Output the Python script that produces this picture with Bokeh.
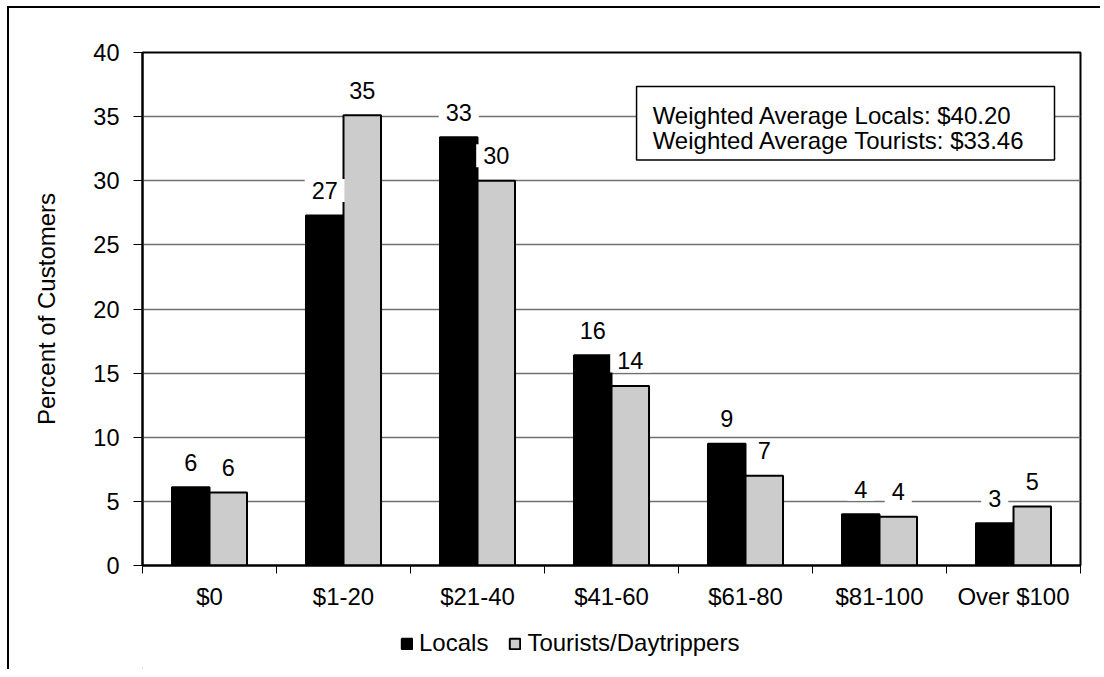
import numpy as np
from bokeh.plotting import figure
from bokeh.layouts import column
from bokeh.models import (ColumnDataSource, FixedTicker, Legend, LegendItem,
                          BoxAnnotation, Label)
from bokeh.embed import file_html
from bokeh.resources import INLINE
from bokeh.core.properties import value

# ---- data ----
categories = ["$0", "$1-20", "$21-40", "$41-60", "$61-80", "$81-100", "Over $100"]
locals_pct = [6.1, 27.3, 33.4, 16.4, 9.5, 4.0, 3.3]
tourists_pct = [5.7, 35.1, 30.0, 14.0, 7.0, 3.8, 4.6]
locals_labels = ["6", "27", "33", "16", "9", "4", "3"]
tourists_labels = ["6", "35", "30", "14", "7", "4", "5"]
y_ticks = [0, 5, 10, 15, 20, 25, 30, 35, 40]
series_names = ["Locals", "Tourists/Daytrippers"]
series_colors = ["black", "#cccccc"]
summary_lines = ["Weighted Average Locals: $40.20",
                 "Weighted Average Tourists: $33.46"]
y_title = "Percent of Customers"

FONT = "Liberation Sans"
n = len(categories)
centers = np.arange(n) + 0.5
bw = 0.28

src = ColumnDataSource(dict(
    loc_x=centers - bw / 2, tour_x=centers + bw / 2,
    loc=locals_pct, tour=tourists_pct,
    loc_lab=locals_labels, tour_lab=tourists_labels))

p = figure(frame_width=936, frame_height=511,
           x_range=(0, n), y_range=(y_ticks[0], y_ticks[-1]),
           output_backend="svg", toolbar_location=None,
           min_border_left=133, min_border_right=22,
           min_border_top=44, min_border_bottom=50)
p.styles = {"margin-left": "7px", "margin-top": "6px",
            "border-top": "2px solid black", "border-left": "2px solid black"}
p.background_fill_color = "white"
p.border_fill_color = "white"
p.outline_line_color = "black"
p.outline_line_width = 2

# grid
p.xgrid.visible = False
p.ygrid.ticker = FixedTicker(ticks=y_ticks)
p.ygrid.grid_line_color = "#707070"
p.ygrid.grid_line_width = 1.5

# y axis
ya = p.yaxis[0]
ya.ticker = FixedTicker(ticks=y_ticks)
ya.axis_line_color = "black"
ya.axis_line_width = 2
ya.major_tick_in = 0
ya.major_tick_out = 9
ya.major_tick_line_color = "black"
ya.minor_tick_line_color = None
ya.major_label_text_font = FONT
ya.major_label_text_font_size = "23.5px"
ya.major_label_text_color = "black"
ya.major_label_standoff = 14
ya.axis_label = y_title
ya.axis_label_text_font = FONT
ya.axis_label_text_font_size = "24px"
ya.axis_label_text_font_style = "normal"
ya.axis_label_text_color = "black"
ya.axis_label_standoff = 30

# x axis
xa = p.xaxis[0]
xa.ticker = FixedTicker(ticks=list(centers), minor_ticks=list(range(n + 1)))
xa.major_label_overrides = {float(c): lab for c, lab in zip(centers, categories)}
xa.axis_line_color = "black"
xa.axis_line_width = 2
xa.major_tick_in = 0
xa.major_tick_out = 0
xa.minor_tick_in = 0
xa.minor_tick_out = 8
xa.minor_tick_line_color = "black"
xa.major_label_text_font = FONT
xa.major_label_text_font_size = "24px"
xa.major_label_text_color = "black"
xa.major_label_standoff = 9

# bars
r1 = p.vbar(x="loc_x", top="loc", width=bw, source=src,
            fill_color=series_colors[0], line_color="black", line_width=2)
r2 = p.vbar(x="tour_x", top="tour", width=bw, source=src,
            fill_color=series_colors[1], line_color="black", line_width=2)

# value labels with white boxes
for xcol, ycol, tcol in [("loc_x", "loc", "loc_lab"), ("tour_x", "tour", "tour_lab")]:
    p.text(x=xcol, y=ycol, text=tcol, source=src,
           text_font=value(FONT), text_font_size="23.5px", text_color="black",
           text_align="center", text_baseline="middle", y_offset=-25,
           background_fill_color="white", padding=dict(x=7, y=3))

# summary box
box = BoxAnnotation(left=3.687, right=6.806, top=37.34, bottom=31.62,
                    fill_color="white", fill_alpha=1.0,
                    line_color="black", line_alpha=1.0, line_width=1.5)
p.add_layout(box)
for i, line in enumerate(summary_lines):
    p.add_layout(Label(x=3.807, y=35.07 - i * 1.96, text=line,
                       text_font=FONT, text_font_size="24px", text_color="black",
                       text_align="left", text_baseline="alphabetic"))

# legend strip (separate figure below the chart)
p2 = figure(frame_width=936, frame_height=56, x_range=(0, 1), y_range=(0, 1),
            output_backend="svg", toolbar_location=None,
            min_border_left=133, min_border_right=22,
            min_border_top=0, min_border_bottom=0)
p2.styles = {"margin-left": "7px", "border-left": "2px solid black"}
p2.axis.visible = False
p2.grid.visible = False
p2.outline_line_color = None
p2.background_fill_color = "white"
p2.border_fill_color = "white"
# legend proxies: one point each, lying outside the strip's visible range
leg_renderers = [p2.vbar(x=[-1.0], top=[0.0], width=0.1, fill_color=c,
                         line_color="black", line_width=2) for c in series_colors]
legend = Legend(items=[LegendItem(label=nm, renderers=[r])
                       for nm, r in zip(series_names, leg_renderers)],
                orientation="horizontal", location=(258, 12),
                glyph_width=13, glyph_height=13, label_standoff=6, spacing=20,
                padding=0, margin=0, border_line_alpha=0, background_fill_alpha=0,
                label_text_font=FONT, label_text_font_size="24px",
                label_text_color="black")
p2.add_layout(legend)

layout = column(p, p2, spacing=0)
open("out.html", "w").write(file_html(layout, INLINE))
